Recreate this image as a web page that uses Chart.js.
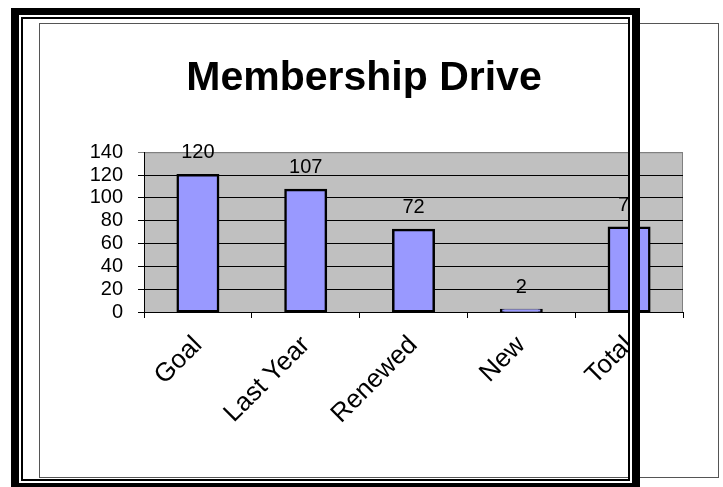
<!DOCTYPE html>
<html>
<head>
<meta charset="utf-8">
<script src="https://cdn.jsdelivr.net/npm/chart.js@4/dist/chart.umd.min.js"></script>
<style>
  html, body { margin: 0; padding: 0; background: #fff; }
  #wrap { position: relative; width: 723px; height: 487px; overflow: hidden; }
  #chart { position: absolute; left: 0; top: 0; }
  .box { position: absolute; box-sizing: border-box; pointer-events: none; }
  #chartBorder { left: 39px; top: 23px; width: 680px; height: 455px; border: 1px solid #555; }
  #frameOuter { left: 11px; top: 8px; width: 629px; height: 482px; border-style: solid; border-color: #000; border-width: 7px 8px 7px 8px; }
  #frameGap { left: 19px; top: 15px; width: 613px; height: 468px; border: 2px solid #fff; }
  #frameInner { left: 21px; top: 17px; width: 609px; height: 464px; border: 2px solid #000; }
</style>
</head>
<body>
<div id="wrap">
  <canvas id="chart" width="723" height="487"></canvas>
  <div class="box" id="chartBorder"></div>
  <div class="box" id="frameOuter"></div>
  <div class="box" id="frameGap"></div>
  <div class="box" id="frameInner"></div>
</div>
<script>
// data
const categories = ["Goal", "Last Year", "Renewed", "New", "Total"];
const members = [120, 107, 72, 2, 74];
const yTicks = [0, 20, 40, 60, 80, 100, 120, 140];

const FONT = "'Liberation Sans', Arial, sans-serif";

// gray plot area like the old Excel chart
const plotBackground = {
  id: "plotBackground",
  beforeDraw: (chart) => {
    const { ctx, chartArea } = chart;
    ctx.save();
    ctx.fillStyle = "#C0C0C0";
    ctx.fillRect(chartArea.left, chartArea.top, chartArea.right - chartArea.left, chartArea.bottom - chartArea.top);
    ctx.strokeStyle = "#808080";
    ctx.lineWidth = 1;
    ctx.strokeRect(chartArea.left + 0.5, chartArea.top + 0.5, chartArea.right - chartArea.left - 1, chartArea.bottom - chartArea.top);
    ctx.restore();
  },
};

// value labels above the bars
const valueLabels = {
  id: "valueLabels",
  afterDatasetsDraw: (chart) => {
    const { ctx } = chart;
    const meta = chart.getDatasetMeta(0);
    ctx.save();
    ctx.font = "20px " + FONT;
    ctx.fillStyle = "#000";
    ctx.textAlign = "center";
    ctx.textBaseline = "alphabetic";
    meta.data.forEach((bar, i) => {
      const { x, y } = bar.getProps(["x", "y"], true);
      ctx.fillText(String(chart.data.datasets[0].data[i]), x, y - 17);
    });
    ctx.restore();
  },
};

new Chart(document.getElementById("chart").getContext("2d"), {
  type: "bar",
  data: {
    labels: categories,
    datasets: [
      {
        data: members,
        backgroundColor: "#9999FF",
        borderColor: "#000",
        borderWidth: 2.5,
        borderSkipped: false,
        inflateAmount: 1,
        barPercentage: 0.38,
        categoryPercentage: 1,
      },
    ],
  },
  options: {
    responsive: false,
    animation: false,
    layout: {
      padding: { left: 45, right: 40, top: 0, bottom: 0 },
    },
    plugins: {
      legend: { display: false },
      tooltip: { enabled: false },
      title: {
        display: true,
        text: "Membership Drive",
        color: "#000",
        font: { family: FONT, size: 41, weight: "bold", lineHeight: 1.2 },
        padding: { top: 54, bottom: 49 },
      },
    },
    scales: {
      x: {
        afterFit: (scale) => {
          scale.height = 175;
        },
        border: { display: true, color: "#000", width: 1 },
        grid: {
          display: true,
          offset: true,
          drawOnChartArea: false,
          drawTicks: true,
          tickLength: 6,
          color: "#000",
        },
        ticks: {
          color: "#000",
          font: { family: FONT, size: 26 },
          minRotation: 45,
          maxRotation: 45,
          padding: 12,
          autoSkip: false,
        },
      },
      y: {
        min: 0,
        max: 140,
        afterFit: (scale) => {
          scale.width = 99;
        },
        afterBuildTicks: (scale) => {
          scale.ticks = yTicks.map((v) => ({ value: v }));
        },
        border: { display: true, color: "#000", width: 1 },
        grid: {
          color: (c) => (c.tick && c.tick.value === 140 ? "#808080" : "#000"),
          tickLength: 6,
          drawTicks: true,
        },
        ticks: {
          color: "#000",
          font: { family: FONT, size: 20 },
          padding: 15,
          autoSkip: false,
        },
      },
    },
  },
  plugins: [plotBackground, valueLabels],
});
</script>
</body>
</html>
